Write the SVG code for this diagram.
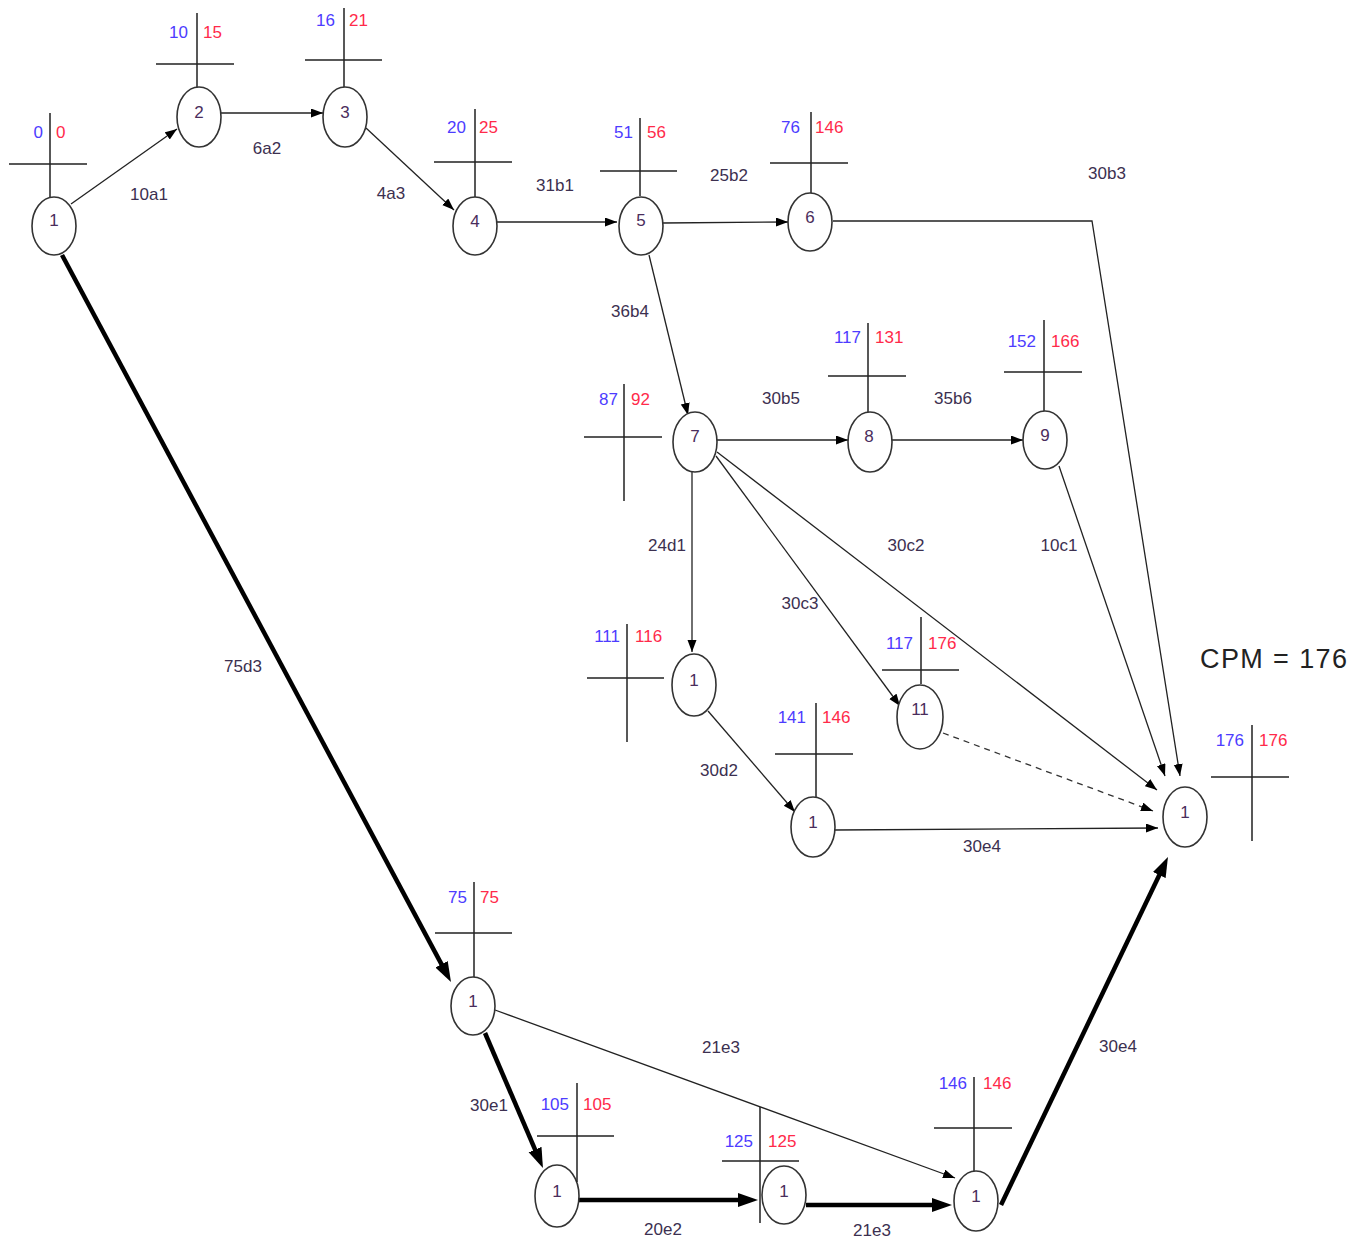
<svg xmlns="http://www.w3.org/2000/svg" width="1365" height="1240" viewBox="0 0 1365 1240">
<style>
text{font-family:"Liberation Sans",Arial,sans-serif}
.node ellipse{fill:#fff;stroke:#333;stroke-width:1.6}
.nid{font-size:17px;fill:#4a2d5c;text-anchor:middle}
.cross{stroke:#222;stroke-width:1.5;fill:none}
.es{font-size:17px;fill:#4d3cff;text-anchor:end}
.lf{font-size:17px;fill:#ff2a4a;text-anchor:start}
.lbl{font-size:17px;fill:#3c3050;text-anchor:middle}
.thin{stroke:#222;stroke-width:1.3;fill:none}
.thick{stroke:#000;stroke-width:4.5;fill:none}
.dash{stroke:#333;stroke-width:1.3;fill:none;stroke-dasharray:6,5}
</style>
<defs>
<marker id="a" markerUnits="userSpaceOnUse" markerWidth="13" markerHeight="10" refX="12" refY="4.5" orient="auto"><path d="M0,0 L12,4.5 L0,9 z" fill="#000"/></marker>
<marker id="b" markerUnits="userSpaceOnUse" markerWidth="21" markerHeight="15" refX="12" refY="7" orient="auto"><path d="M0,0 L20,7 L0,14 z" fill="#000"/></marker>
</defs>
<rect width="1365" height="1240" fill="#fff"/>
<g id="connectors">
<line class="thin" x1="71" y1="204" x2="177" y2="129" marker-end="url(#a)"/>
<line class="thin" x1="221" y1="113" x2="323" y2="113" marker-end="url(#a)"/>
<line class="thin" x1="366" y1="128" x2="454" y2="210" marker-end="url(#a)"/>
<line class="thin" x1="497" y1="222" x2="617" y2="222" marker-end="url(#a)"/>
<line class="thin" x1="663" y1="223" x2="788" y2="222" marker-end="url(#a)"/>
<polyline class="thin" points="833,221 1092,221 1180,776" marker-end="url(#a)"/>
<line class="thin" x1="649" y1="255" x2="688" y2="415" marker-end="url(#a)"/>
<line class="thin" x1="717" y1="440" x2="848" y2="440" marker-end="url(#a)"/>
<line class="thin" x1="892" y1="440" x2="1023" y2="440" marker-end="url(#a)"/>
<line class="thin" x1="1059" y1="466" x2="1165" y2="776" marker-end="url(#a)"/>
<line class="thin" x1="692" y1="471" x2="692" y2="652" marker-end="url(#a)"/>
<line class="thin" x1="716" y1="456" x2="900" y2="706" marker-end="url(#a)"/>
<line class="thin" x1="717" y1="452" x2="1157" y2="790" marker-end="url(#a)"/>
<line class="dash" x1="943" y1="733" x2="1153" y2="811" marker-end="url(#a)"/>
<line class="thin" x1="708" y1="711" x2="795" y2="812" marker-end="url(#a)"/>
<line class="thin" x1="835" y1="830" x2="1158" y2="828" marker-end="url(#a)"/>
<line class="thin" x1="495" y1="1010" x2="955" y2="1178" marker-end="url(#a)"/>
<line class="thick" x1="62" y1="255" x2="447.2" y2="974.9" marker-end="url(#b)"/>
<line class="thick" x1="485" y1="1033" x2="539.8" y2="1160.6" marker-end="url(#b)"/>
<line class="thick" x1="578" y1="1200" x2="750" y2="1200" marker-end="url(#b)"/>
<line class="thick" x1="806" y1="1205" x2="944" y2="1205" marker-end="url(#b)"/>
<line class="thick" x1="1001" y1="1205" x2="1164.5" y2="864.2" marker-end="url(#b)"/>
</g>
<g id="labels">
<text class="lbl" x="149" y="200">10a1</text>
<text class="lbl" x="267" y="154">6a2</text>
<text class="lbl" x="391" y="199">4a3</text>
<text class="lbl" x="555" y="191">31b1</text>
<text class="lbl" x="729" y="181">25b2</text>
<text class="lbl" x="1107" y="179">30b3</text>
<text class="lbl" x="630" y="317">36b4</text>
<text class="lbl" x="781" y="404">30b5</text>
<text class="lbl" x="953" y="404">35b6</text>
<text class="lbl" x="667" y="551">24d1</text>
<text class="lbl" x="906" y="551">30c2</text>
<text class="lbl" x="1059" y="551">10c1</text>
<text class="lbl" x="800" y="609">30c3</text>
<text class="lbl" x="243" y="672">75d3</text>
<text class="lbl" x="719" y="776">30d2</text>
<text class="lbl" x="982" y="852">30e4</text>
<text class="lbl" x="721" y="1053">21e3</text>
<text class="lbl" x="489" y="1111">30e1</text>
<text class="lbl" x="663" y="1235">20e2</text>
<text class="lbl" x="872" y="1236">21e3</text>
<text class="lbl" x="1118" y="1052">30e4</text>
<text x="1200" y="668" textLength="147" lengthAdjust="spacing" style="font-size:27px;fill:#222">CPM = 176</text>
</g>
<g id="n1" class="node"><path class="cross" d="M50,113V198M9,164H87"/><text class="es" x="43" y="138">0</text><text class="lf" x="56" y="138">0</text><ellipse cx="54" cy="226" rx="22" ry="29"/><text class="nid" x="54" y="226">1</text></g>
<g id="n2" class="node"><path class="cross" d="M197,13V88M156,64H234"/><text class="es" x="188" y="38">10</text><text class="lf" x="203" y="38">15</text><ellipse cx="199" cy="117" rx="22" ry="30"/><text class="nid" x="199" y="118">2</text></g>
<g id="n3" class="node"><path class="cross" d="M344,8V88M305,60H382"/><text class="es" x="335" y="26">16</text><text class="lf" x="349" y="26">21</text><ellipse cx="345" cy="117" rx="22" ry="30"/><text class="nid" x="345" y="118">3</text></g>
<g id="n4" class="node"><path class="cross" d="M475,109V197M434,162H512"/><text class="es" x="466" y="133">20</text><text class="lf" x="479" y="133">25</text><ellipse cx="475" cy="226" rx="22" ry="29"/><text class="nid" x="475" y="227">4</text></g>
<g id="n5" class="node"><path class="cross" d="M640,118V196M600,171H677"/><text class="es" x="633" y="138">51</text><text class="lf" x="647" y="138">56</text><ellipse cx="641" cy="226" rx="22" ry="29"/><text class="nid" x="641" y="226">5</text></g>
<g id="n6" class="node"><path class="cross" d="M811,112V193M770,163H848"/><text class="es" x="800" y="133">76</text><text class="lf" x="815" y="133">146</text><ellipse cx="810" cy="222" rx="22" ry="29"/><text class="nid" x="810" y="223">6</text></g>
<g id="n7" class="node"><path class="cross" d="M624,384V501M584,437H662"/><text class="es" x="618" y="405">87</text><text class="lf" x="631" y="405">92</text><ellipse cx="695" cy="442" rx="22" ry="30"/><text class="nid" x="695" y="442">7</text></g>
<g id="n8" class="node"><path class="cross" d="M868,323V412M828,376H906"/><text class="es" x="861" y="343">117</text><text class="lf" x="875" y="343">131</text><ellipse cx="870" cy="442" rx="22" ry="30"/><text class="nid" x="869" y="442">8</text></g>
<g id="n9" class="node"><path class="cross" d="M1044,320V411M1004,372H1082"/><text class="es" x="1036" y="347">152</text><text class="lf" x="1051" y="347">166</text><ellipse cx="1045" cy="440" rx="22" ry="29"/><text class="nid" x="1045" y="441">9</text></g>
<g id="n10" class="node"><path class="cross" d="M627,624V742M587,678H664"/><text class="es" x="620" y="642">111</text><text class="lf" x="635" y="642">116</text><ellipse cx="694" cy="685" rx="22" ry="31"/><text class="nid" x="694" y="686">1</text></g>
<g id="n11" class="node"><path class="cross" d="M921,617V684M882,670H959"/><text class="es" x="913" y="649">117</text><text class="lf" x="928" y="649">176</text><ellipse cx="920" cy="717" rx="23" ry="32"/><text class="nid" x="920" y="715">11</text></g>
<g id="n12" class="node"><path class="cross" d="M816,703V797M775,754H853"/><text class="es" x="806" y="723">141</text><text class="lf" x="822" y="723">146</text><ellipse cx="813" cy="827" rx="22" ry="30"/><text class="nid" x="813" y="828">1</text></g>
<g id="n17" class="node"><path class="cross" d="M1252,725V841M1211,777H1289"/><text class="es" x="1244" y="746">176</text><text class="lf" x="1259" y="746">176</text><ellipse cx="1185" cy="817" rx="22" ry="30"/><text class="nid" x="1185" y="818">1</text></g>
<g id="n13" class="node"><path class="cross" d="M474,882V977M435,933H512"/><text class="es" x="467" y="903">75</text><text class="lf" x="480" y="903">75</text><ellipse cx="473" cy="1006" rx="22" ry="29"/><text class="nid" x="473" y="1007">1</text></g>
<g id="n14" class="node"><ellipse cx="557" cy="1196" rx="22" ry="31"/><path class="cross" d="M577,1083V1182M537,1136H614"/><text class="es" x="569" y="1110">105</text><text class="lf" x="583" y="1110">105</text><text class="nid" x="557" y="1197">1</text></g>
<g id="n15" class="node"><ellipse cx="784" cy="1195" rx="22" ry="29"/><path class="cross" d="M760,1107V1223M722,1161H799"/><text class="es" x="753" y="1147">125</text><text class="lf" x="768" y="1147">125</text><text class="nid" x="784" y="1197">1</text></g>
<g id="n16" class="node"><path class="cross" d="M974,1077V1171M934,1128H1012"/><text class="es" x="967" y="1089">146</text><text class="lf" x="983" y="1089">146</text><ellipse cx="976" cy="1201" rx="22" ry="30"/><text class="nid" x="976" y="1202">1</text></g>
</svg>
